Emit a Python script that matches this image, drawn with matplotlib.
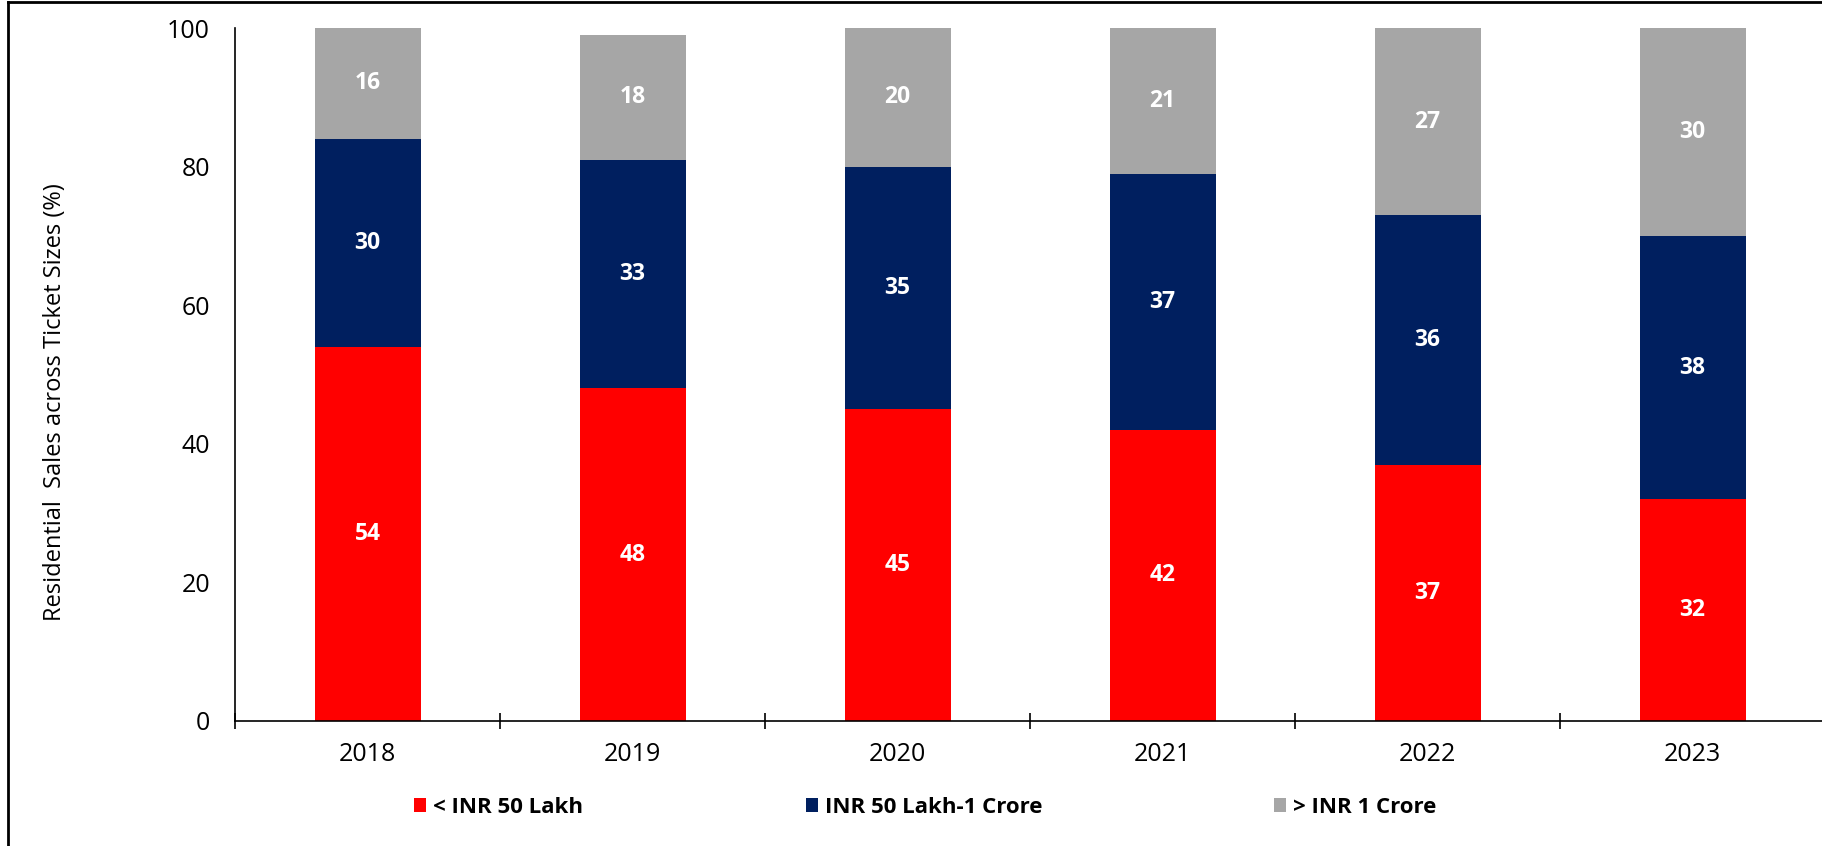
import matplotlib
matplotlib.use("Agg")
import matplotlib.pyplot as plt
from matplotlib.patches import Patch
from matplotlib.lines import Line2D
import numpy as np

plt.rcParams['font.family'] = ['Open Sans', 'DejaVu Sans']

years = ["2018", "2019", "2020", "2021", "2022", "2023"]
below_50l = [54, 48, 45, 42, 37, 32]
mid_50l_1cr = [30, 33, 35, 37, 36, 38]
above_1cr = [16, 18, 20, 21, 27, 30]
series_names = ["< INR 50 Lakh", "INR 50 Lakh-1 Crore", "> INR 1 Crore"]
colors = ["#FF0000", "#001F5F", "#A6A6A6"]
y_ticks = [0, 20, 40, 60, 80, 100]
y_label = "Residential  Sales across Ticket Sizes (%)"

W, H = 1822, 846
fig = plt.figure(figsize=(W / 100, H / 100), dpi=100)
ax = fig.add_axes([235 / W, 1 - 721 / H, (1825 - 235) / W, (721 - 28) / H])

x = np.arange(len(years))
bottom = np.zeros(len(years))
for vals, c in zip([below_50l, mid_50l_1cr, above_1cr], colors):
    vals = np.array(vals)
    ax.bar(x, vals, width=0.4, bottom=bottom, color=c, edgecolor='none', zorder=2)
    for xi, b, v in zip(x, bottom, vals):
        ax.text(xi, b + v / 2, str(v), ha='center', va='center', color='white',
                fontsize=16.5, fontweight='bold', zorder=3)
    bottom = bottom + vals

ax.set_xlim(-0.5, len(years) - 0.5)
ax.set_ylim(0, 100)
ax.set_yticks(y_ticks)
ax.set_yticklabels([str(t) for t in y_ticks], fontsize=18)
ax.tick_params(axis='y', length=0, pad=18)
ax.set_xticks(x)
ax.set_xticklabels(years, fontsize=18)
ax.set_xticks(np.arange(len(years) + 1) - 0.5, minor=True)
ax.tick_params(axis='x', which='major', length=0, pad=15)
ax.tick_params(axis='x', which='minor', direction='inout', length=12, width=1.2, color='black')
for s in ['top', 'right']:
    ax.spines[s].set_visible(False)
ax.spines['left'].set_linewidth(1.2)
ax.spines['bottom'].set_linewidth(1.2)
ax.set_ylabel(y_label, fontsize=17)
ax.yaxis.set_label_coords((55 - 235) / (1825 - 235), (721 - 402) / (721 - 28))
ax.yaxis.label.set_va('center')

# legend entries
legend_x = [414, 806, 1274]
for name, c, lx in zip(series_names, colors, legend_x):
    fig.legend(handles=[Patch(facecolor=c, edgecolor='none')], labels=[name],
               loc='center left', bbox_to_anchor=(lx / W, 1 - 807 / H), frameon=False,
               prop={'weight': 'bold', 'size': 16}, handlelength=0.55, handleheight=0.6,
               handletextpad=0.3, borderpad=0, borderaxespad=0)

# outer frame lines (left and top)
fig.add_artist(Line2D([8 / W, 8 / W], [0, 1 - 2 / H], color='black', lw=2, transform=fig.transFigure))
fig.add_artist(Line2D([8 / W, 1], [1 - 2 / H, 1 - 2 / H], color='black', lw=2, transform=fig.transFigure))

fig.savefig("out.png", dpi=100)
